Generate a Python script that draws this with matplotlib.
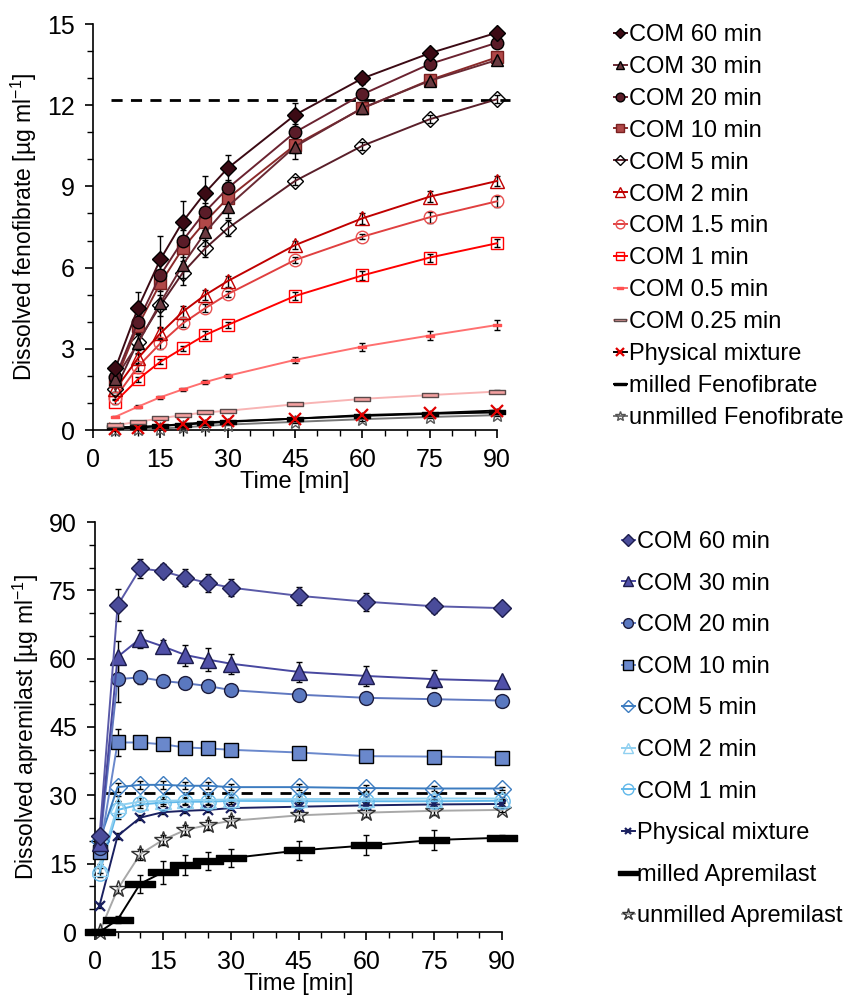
import numpy as np
import matplotlib.pyplot as plt
from matplotlib.path import Path
from matplotlib.ticker import MultipleLocator

plt.rcParams['font.family'] = ['Liberation Sans', 'DejaVu Sans']
plt.rcParams['mathtext.fontset'] = 'custom'
plt.rcParams['mathtext.rm'] = 'Liberation Sans'

# flat bar marker used for the milled / 0.25 min series
bar = Path([(-1, -0.22), (1, -0.22), (1, 0.22), (-1, 0.22), (-1, -0.22)],
           [Path.MOVETO, Path.LINETO, Path.LINETO, Path.LINETO, Path.CLOSEPOLY])

# ---- fenofibrate data ----
t_feno = [5, 10, 15, 20, 25, 30, 45, 60, 75, 90]
feno_labels = ['COM 60 min', 'COM 30 min', 'COM 20 min', 'COM 10 min', 'COM 5 min',
               'COM 2 min', 'COM 1.5 min', 'COM 1 min', 'COM 0.5 min', 'COM 0.25 min',
               'Physical mixture', 'milled Fenofibrate', 'unmilled Fenofibrate']
feno_vals = [
    [2.28, 4.5, 6.3, 7.7, 8.77, 9.67, 11.64, 12.99, 13.92, 14.68],
    [1.9, 3.2, 4.7, 6.1, 7.3, 8.25, 10.47, 11.9, 12.9, 13.67],
    [1.95, 4.0, 5.72, 7.0, 8.07, 8.93, 11.0, 12.4, 13.52, 14.31],
    [1.8, 3.85, 5.42, 6.71, 7.7, 8.56, 10.53, 11.88, 12.93, 13.77],
    [1.5, 3.26, 4.6, 5.81, 6.71, 7.45, 9.2, 10.5, 11.48, 12.22],
    [1.5, 2.65, 3.57, 4.37, 4.99, 5.5, 6.83, 7.82, 8.62, 9.2],
    [1.2, 2.34, 3.2, 3.94, 4.5, 5.02, 6.28, 7.14, 7.86, 8.45],
    [1.05, 1.87, 2.52, 3.02, 3.51, 3.88, 4.95, 5.71, 6.37, 6.9],
    [0.49, 0.86, 1.21, 1.5, 1.77, 2.0, 2.59, 3.08, 3.49, 3.88],
    [0.18, 0.3, 0.43, 0.55, 0.65, 0.71, 0.95, 1.15, 1.29, 1.42],
    [0.05, 0.08, 0.15, 0.22, 0.28, 0.32, 0.42, 0.55, 0.62, 0.72],
    [0.1, 0.12, 0.15, 0.2, 0.25, 0.3, 0.42, 0.52, 0.6, 0.65],
    [0.0, 0.03, 0.05, 0.1, 0.15, 0.2, 0.3, 0.4, 0.48, 0.55],
]
feno_err = [
    [0.2, 0.6, 0.85, 0.75, 0.6, 0.5, 0.45, 0.2, 0.15, 0.1],
    [0.2, 0.4, 0.9, 0.5, 0.5, 0.4, 0.45, 0.2, 0.15, 0.15],
    [0.2, 0.3, 0.5, 0.4, 0.3, 0.3, 0.3, 0.2, 0.15, 0.15],
    [0.15, 0.3, 0.3, 0.3, 0.3, 0.3, 0.3, 0.2, 0.15, 0.1],
    [0.1, 0.3, 0.4, 0.45, 0.3, 0.3, 0.15, 0.15, 0.15, 0.15],
    [0.1, 0.2, 0.2, 0.2, 0.2, 0.2, 0.15, 0.2, 0.2, 0.2],
    [0.1, 0.15, 0.2, 0.15, 0.15, 0.1, 0.1, 0.1, 0.2, 0.2],
    [0.1, 0.1, 0.1, 0.1, 0.15, 0.1, 0.15, 0.15, 0.15, 0.15],
    [0.02, 0.05, 0.05, 0.05, 0.08, 0.08, 0.12, 0.15, 0.15, 0.2],
    [0.02, 0.03, 0.03, 0.03, 0.03, 0.03, 0.04, 0.05, 0.05, 0.05],
    [0.02, 0.03, 0.03, 0.03, 0.03, 0.03, 0.04, 0.05, 0.05, 0.05],
    [0.02, 0.03, 0.03, 0.03, 0.03, 0.03, 0.04, 0.05, 0.05, 0.05],
    [0.02, 0.03, 0.03, 0.03, 0.03, 0.03, 0.04, 0.05, 0.05, 0.05],
]
feno_solubility = 12.2

# ---- apremilast data ----
t_apre = [1, 5, 10, 15, 20, 25, 30, 45, 60, 75, 90]
apre_labels = ['COM 60 min', 'COM 30 min', 'COM 20 min', 'COM 10 min', 'COM 5 min',
               'COM 2 min', 'COM 1 min', 'Physical mixture', 'milled Apremilast',
               'unmilled Apremilast']
apre_vals = [
    [21.0, 71.7, 79.8, 79.2, 77.8, 76.6, 75.6, 73.8, 72.5, 71.5, 71.1],
    [19.5, 60.4, 64.4, 62.7, 60.8, 59.8, 58.9, 57.1, 56.2, 55.5, 55.1],
    [18.5, 55.5, 55.9, 55.1, 54.6, 54.0, 53.1, 52.1, 51.4, 51.1, 50.8],
    [17.5, 41.6, 41.6, 41.2, 40.5, 40.3, 40.0, 39.4, 38.6, 38.5, 38.3],
    [20.0, 31.8, 32.3, 32.3, 32.1, 32.1, 31.8, 31.8, 31.6, 31.5, 31.5],
    [14.0, 27.8, 28.6, 28.8, 28.9, 29.0, 29.1, 29.2, 29.2, 29.3, 29.3],
    [13.0, 26.8, 28.0, 28.4, 28.6, 28.6, 28.8, 28.7, 28.7, 28.7, 28.8],
    [5.8, 21.1, 25.1, 26.3, 26.6, 26.8, 27.2, 27.5, 27.8, 28.0, 28.1],
    [0.0, 2.7, 10.6, 13.1, 14.8, 15.6, 16.2, 17.9, 19.0, 20.2, 20.7],
    [0.0, 9.4, 17.1, 20.2, 22.4, 23.5, 24.4, 25.6, 26.2, 26.6, 26.8],
]
apre_err = [
    [1.0, 3.5, 2.0, 1.5, 1.8, 2.0, 1.8, 2.0, 2.0, 1.5, 0.5],
    [1.0, 3.5, 2.0, 1.5, 2.3, 2.5, 2.2, 2.2, 2.2, 2.0, 0.5],
    [1.0, 5.0, 1.5, 1.0, 1.0, 1.0, 1.0, 1.0, 1.0, 1.0, 0.5],
    [1.0, 3.0, 1.0, 1.0, 1.0, 1.0, 1.0, 1.0, 1.2, 1.2, 0.5],
    [1.0, 1.0, 0.8, 0.8, 0.8, 0.8, 0.6, 0.6, 0.6, 0.6, 0.4],
    [1.0, 2.0, 0.8, 0.8, 0.8, 0.8, 0.6, 0.6, 0.6, 0.6, 0.4],
    [1.0, 2.0, 0.8, 0.8, 0.8, 0.8, 0.6, 0.6, 0.6, 0.6, 0.4],
    [0.5, 0.6, 0.5, 0.5, 0.5, 0.5, 0.5, 0.5, 0.5, 0.5, 0.4],
    [0.3, 0.8, 2.0, 2.5, 2.2, 2.0, 2.0, 2.0, 2.2, 2.2, 0.5],
    [0.3, 0.8, 1.2, 1.0, 1.0, 1.0, 1.0, 1.0, 1.0, 1.0, 0.5],
]
apre_solubility = 30.5

# marker, face, edge, line colour, size
feno_style = [
    ('D', '#3b0a14', 'black', '#3b0a14', 8),
    ('^', '#6a3a40', 'black', '#6a2a34', 9),
    ('o', '#5a1c28', 'black', '#6a2230', 9),
    ('s', '#b04848', '#7a2020', '#8a2a2a', 9),
    ('D', 'none', 'black', '#5a1f2a', 8),
    ('^', 'none', '#c00000', '#c00000', 10),
    ('o', 'none', '#e85050', '#e04040', 9),
    ('s', 'none', '#ff0000', '#ff0000', 9),
    (bar, '#ff5050', '#ff5050', '#ff7070', 6),
    (bar, '#f4a0a0', '#5a4a4a', '#f8b4b4', 12),
    ('x', '#e00000', '#e00000', 'black', 8),
    (bar, 'black', 'black', 'black', 12),
    ('*', 'none', '#555555', '#777777', 10),
]
apre_style = [
    ('D', '#4a4c9a', '#1c1c4c', '#5a5aa8', 9),
    ('^', '#5050a8', '#1c1c4c', '#4848a0', 11),
    ('o', '#5a78c0', '#1c1c3c', '#6078c0', 10),
    ('s', '#6a88cc', 'black', '#6a88cc', 10),
    ('D', 'none', '#3c7cc0', '#3c7cc0', 9),
    ('^', 'none', '#90d0f0', '#90d0f0', 11),
    ('o', 'none', '#60b8ea', '#60b8ea', 11),
    ('x', '#1a2060', '#1a2060', '#1a2060', 7),
    (bar, 'black', 'black', 'black', 21),
    ('*', 'none', '#333333', '#a8a8a8', 13),
]


def draw_panel(ax, t, vals, errs, styles, labels, lw_marker=1.0):
    handles = []
    for i in range(len(vals) - 1, -1, -1):
        m, fc, ec, lc, ms = styles[i]
        ax.errorbar(t, vals[i], yerr=errs[i], fmt='none', ecolor='black',
                    elinewidth=1.0, capsize=2, capthick=1.0, clip_on=False, zorder=2 + i * 0.01)
        ln, = ax.plot(t, vals[i], color=lc, lw=1.4, marker=m, ms=ms, mfc=fc, mec=ec,
                      mew=1.6 if m == 'x' else lw_marker, clip_on=False, zorder=3 + (len(vals) - i) * 0.1,
                      label=labels[i])
        handles.append(ln)
    return handles[::-1]


def style_axes(ax, ymax, ymajor, yminor):
    ax.set_xlim(0, 90)
    ax.set_ylim(0, ymax)
    ax.spines['top'].set_visible(False)
    ax.spines['right'].set_visible(False)
    ax.xaxis.set_major_locator(MultipleLocator(15))
    ax.xaxis.set_minor_locator(MultipleLocator(5))
    ax.yaxis.set_major_locator(MultipleLocator(ymajor))
    ax.yaxis.set_minor_locator(MultipleLocator(yminor))
    ax.tick_params(which='major', direction='out', length=6, width=1.2, labelsize=18, pad=7)
    ax.tick_params(which='minor', direction='out', length=4, width=1.0)
    for s in ('left', 'bottom'):
        ax.spines[s].set_linewidth(1.2)
    ax.set_xlabel('Time [min]', fontsize=17, labelpad=-1)


fig = plt.figure(figsize=(8.48, 9.98), dpi=100)

ax1 = fig.add_axes([93 / 848, 1 - 430 / 998, 404 / 848, 406 / 998])
h1 = draw_panel(ax1, t_feno, feno_vals, feno_err, feno_style, feno_labels)
ax1.plot([4, 93], [feno_solubility] * 2, color='black', ls=(0, (4, 3)), lw=2, clip_on=False, zorder=2)
style_axes(ax1, 15, 3, 1)
ax1.set_ylabel('Dissolved fenofibrate [µg ml$^{\\mathregular{-1}}$]', fontsize=16.5, labelpad=6)
fig.legend(handles=h1, loc='upper left', bbox_to_anchor=(614 / 848, 1 - 24 / 998),
           frameon=False, fontsize=17, handlelength=0.55, handletextpad=0.1,
           labelspacing=0.42, markerscale=0.7, borderpad=0, borderaxespad=0)

ax2 = fig.add_axes([95 / 848, 1 - 932 / 998, 407 / 848, 410 / 998])
h2 = draw_panel(ax2, t_apre, apre_vals, apre_err, apre_style, apre_labels)
ax2.plot([2.3, 91], [apre_solubility] * 2, color='black', ls=(0, (4, 3)), lw=2, clip_on=False, zorder=2)
style_axes(ax2, 90, 15, 5)
ax2.set_ylabel('Dissolved apremilast [µg ml$^{\\mathregular{-1}}$]', fontsize=16.5, labelpad=6)
fig.legend(handles=h2, loc='upper left', bbox_to_anchor=(622 / 848, 1 - 531 / 998),
           frameon=False, fontsize=17, handlelength=0.55, handletextpad=0.1,
           labelspacing=0.83, markerscale=0.7, borderpad=0, borderaxespad=0)

fig.savefig('out.png', dpi=100)
